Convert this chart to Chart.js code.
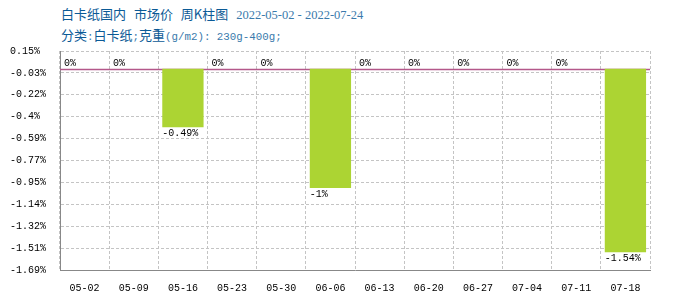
<!DOCTYPE html>
<html>
<head>
<meta charset="utf-8">
<script src="https://cdn.jsdelivr.net/npm/chart.js@4/dist/chart.umd.min.js"></script>
<style>
    body { margin: 0; background: #fff; }
    #wrap { position: relative; width: 700px; height: 300px; }
    .head { position: absolute; left: 61px; white-space: nowrap; color: #0b5a96;
            font-family: "Noto Sans CJK SC", sans-serif; font-size: 13px; line-height: 16px; }
    .head .en { font-family: "Liberation Serif", serif; font-size: 12.5px; color: #3a7aac; }
    .head .mono { font-family: "Liberation Mono", monospace; font-size: 10.8px; color: #3a7aac; }
    canvas { position: absolute; left: 0; top: 0; }
</style>
</head>
<body>
<div id="wrap">
    <div class="head" style="top:6px; word-spacing:5px">白卡纸国内 市场价 周K柱图 <span class="en" style="word-spacing:0">2022-05-02 - 2022-07-24</span></div>
    <div class="head" style="top:27px">分类<span class="mono">:</span>白卡纸<span class="mono">;</span>克重<span class="mono">(g/m2): 230g-400g;</span></div>
    <canvas id="chart" width="700" height="300"></canvas>
</div>
<script>
// 周标签
const weeks = ['05-02', '05-09', '05-16', '05-23', '05-30', '06-06',
               '06-13', '06-20', '06-27', '07-04', '07-11', '07-18'];
// 周涨跌幅 (%)
const changes = [0, 0, -0.49, 0, 0, -1, 0, 0, 0, 0, 0, -1.54];
// y轴刻度
const yTickValues = [0.15, -0.034, -0.218, -0.402, -0.586, -0.77, -0.954, -1.138, -1.322, -1.506, -1.69];
const yTickLabels = ['0.15%', '-0.03%', '-0.22%', '-0.4%', '-0.59%', '-0.77%',
                     '-0.95%', '-1.14%', '-1.32%', '-1.51%', '-1.69%'];

const monoFont = { family: '"Liberation Mono", monospace', size: 10 };

// 零线
const zeroLine = {
    id: 'zeroLine',
    beforeDatasetsDraw(chart) {
        const { ctx, chartArea, scales } = chart;
        const y = Math.round(scales.y.getPixelForValue(0)) + 0.5;
        ctx.save();
        ctx.strokeStyle = '#b4588a';
        ctx.lineWidth = 1.5;
        ctx.beginPath();
        ctx.moveTo(chartArea.left, y);
        ctx.lineTo(chartArea.right, y);
        ctx.stroke();
        ctx.restore();
    }
};

// 柱子数值标签
const barLabels = {
    id: 'barLabels',
    afterDatasetsDraw(chart) {
        const { ctx } = chart;
        const meta = chart.getDatasetMeta(0);
        ctx.save();
        ctx.font = '10px "Liberation Mono", monospace';
        ctx.fillStyle = '#000';
        ctx.textAlign = 'left';
        meta.data.forEach((bar, i) => {
            const v = changes[i];
            const x = bar.x - bar.width / 2;
            if (v < 0) {
                ctx.textBaseline = 'top';
                ctx.fillText(v + '%', x, bar.y + 1);
            } else {
                ctx.textBaseline = 'bottom';
                ctx.fillText(v + '%', x, bar.y);
            }
        });
        ctx.restore();
    }
};

new Chart(document.getElementById('chart'), {
    type: 'bar',
    data: {
        labels: weeks,
        datasets: [{
            data: changes,
            backgroundColor: '#acd433',
            barPercentage: 0.84,
            categoryPercentage: 1
        }]
    },
    options: {
        responsive: false,
        animation: false,
        layout: { padding: { top: 51, right: 50, left: 10, bottom: 0 } },
        plugins: {
            legend: { display: false },
            tooltip: { enabled: false }
        },
        scales: {
            x: {
                grid: { color: '#c4c4c4', drawTicks: false },
                border: { color: '#888', width: 1, dash: [3, 2] },
                ticks: { color: '#000', font: monoFont, padding: 12, maxRotation: 0, autoSkip: false },
                afterFit(scale) { scale.height = 30; }
            },
            y: {
                min: -1.69,
                max: 0.15,
                afterBuildTicks(axis) {
                    axis.ticks = yTickValues.map(v => ({ value: v }));
                },
                grid: { color: '#c4c4c4', drawTicks: false },
                border: { color: '#888', width: 1, dash: [3, 2] },
                ticks: {
                    color: '#000',
                    font: monoFont,
                    crossAlign: 'far',
                    padding: 4,
                    callback: (v, i) => yTickLabels[i]
                },
                afterFit(scale) { scale.width = 50; }
            }
        }
    },
    plugins: [zeroLine, barLabels]
});
</script>
</body>
</html>
